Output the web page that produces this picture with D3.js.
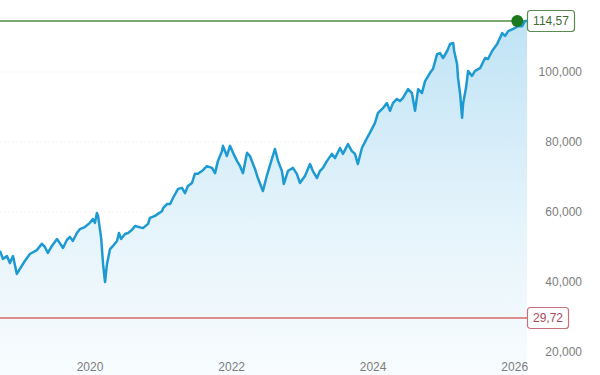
<!DOCTYPE html>
<html>
<head>
<meta charset="utf-8">
<script src="https://cdn.jsdelivr.net/npm/d3@7"></script>
<style>
html,body{margin:0;padding:0;background:#fff;}
svg{display:block;font-family:"Liberation Sans",Arial,sans-serif;}
</style>
</head>
<body>
<svg id="chart" width="600" height="375"></svg>
<script>
const dates = ["2018-09-26","2018-10-11","2018-11-01","2018-11-16","2018-12-02","2018-12-22",
"2019-02-01","2019-02-27","2019-04-04","2019-04-30","2019-05-16","2019-05-31","2019-06-21","2019-07-17",
"2019-08-01","2019-08-17","2019-09-06","2019-09-22","2019-10-07","2019-10-28","2019-11-12","2019-12-08",
"2020-01-03","2020-01-18","2020-01-29","2020-02-08","2020-02-14","2020-03-01","2020-03-11","2020-03-21",
"2020-03-31","2020-04-16","2020-05-01","2020-05-22","2020-06-01","2020-06-12","2020-07-02","2020-07-18",
"2020-08-07","2020-08-23","2020-10-03","2020-10-29","2020-11-08","2020-12-04",
"2021-01-10","2021-01-15","2021-02-05","2021-02-20","2021-03-07","2021-04-02","2021-04-22","2021-05-08",
"2021-05-23","2021-06-13","2021-06-28","2021-07-14","2021-08-03","2021-08-29","2021-09-24","2021-10-10",
"2021-10-25","2021-11-15","2021-11-20","2021-12-10","2021-12-26",
"2022-01-11","2022-01-31","2022-02-16","2022-03-03","2022-03-24","2022-04-08","2022-05-04","2022-05-19",
"2022-06-14","2022-07-04","2022-07-30","2022-08-15","2022-08-31","2022-09-20","2022-09-30","2022-10-21",
"2022-11-16","2022-12-06","2022-12-22",
"2023-01-17","2023-02-12","2023-02-27","2023-03-20","2023-04-04","2023-04-20","2023-05-11","2023-06-05",
"2023-06-21","2023-07-17","2023-08-01","2023-08-27","2023-09-16","2023-10-02","2023-10-17","2023-11-07",
"2023-12-03","2023-12-18",
"2024-01-13","2024-01-29","2024-02-24","2024-03-15","2024-03-31","2024-04-15","2024-05-06","2024-05-21",
"2024-06-06","2024-07-02","2024-07-22","2024-08-07","2024-08-23","2024-09-12","2024-09-28","2024-10-23",
"2024-11-08","2024-11-29","2024-12-14","2024-12-30",
"2025-01-20","2025-02-04","2025-02-20","2025-02-25","2025-03-12","2025-03-17","2025-03-28","2025-04-07",
"2025-04-12","2025-04-27","2025-05-08","2025-05-28","2025-06-13","2025-07-09","2025-08-04","2025-08-19",
"2025-09-09","2025-10-05","2025-10-31","2025-11-15","2025-12-01","2025-12-27",
"2026-01-21","2026-02-11","2026-02-26","2026-03-08"];
const values = [48.9,46.6,47.4,45.4,47.4,42.3,
46.0,48.0,49.1,50.9,50.0,48.3,50.3,52.3,
51.1,49.7,52.0,52.9,51.7,54.0,55.1,55.7,
56.9,58.0,56.9,59.7,58.9,52.6,45.1,40.0,
45.1,49.4,50.3,51.7,54.0,52.3,53.7,54.0,
54.9,56.0,55.4,56.6,58.3,58.9,
60.3,61.1,62.3,62.3,64.0,66.6,66.9,65.4,
67.4,68.3,70.9,70.9,71.7,73.1,72.6,71.1,
74.6,77.4,78.9,76.0,78.9,
76.9,74.6,73.1,71.1,76.9,76.0,72.3,69.7,
66.0,70.3,75.1,78.0,74.6,71.7,68.0,71.7,
72.6,70.9,68.3,
70.3,73.7,71.7,69.7,71.7,72.6,74.6,76.6,
75.4,78.3,76.6,79.4,77.4,76.6,73.7,78.3,
81.1,82.6,
85.4,88.3,89.7,91.1,88.9,91.1,92.3,91.7,
92.6,95.1,94.0,88.9,95.1,94.0,97.4,99.7,
100.9,105.1,105.4,104.0,
106.0,108.0,108.3,106.0,102.3,98.3,93.7,86.9,
90.9,95.4,100.3,98.9,100.3,101.1,104.0,103.7,
106.0,108.0,111.1,110.3,111.7,112.3,
113.1,113.1,114.6,114.57];
const yTicks = [20, 40, 60, 80, 100];
const xTickYears = [2020, 2022, 2024, 2026];
const highValue = 114.57;
const highDate = "2026-01-17";
const lowValue = 29.72;

const parse = d3.timeParse("%Y-%m-%d");
const data = dates.map((d, i) => ({date: parse(d), value: values[i]}));
const locale = d3.formatLocale({decimal: ",", thousands: ".", grouping: [3], currency: ["", "€"]});
const fmt3 = locale.format(".3f");
const fmt2 = locale.format(".2f");

const svg = d3.select("#chart");
const plotRight = 527, plotBottom = 375;
const x = d3.scaleTime().domain(d3.extent(data, d => d.date)).range([0, plotRight]);
const y = d3.scaleLinear().domain([15, 120]).range([369.5, 2]);

const defs = svg.append("defs");
const grad = defs.append("linearGradient").attr("id", "fillGrad")
  .attr("gradientUnits", "userSpaceOnUse").attr("x1", 0).attr("x2", 0).attr("y1", 20).attr("y2", plotBottom);
grad.append("stop").attr("offset", "0%").attr("stop-color", "#bfe3f5");
grad.append("stop").attr("offset", "55%").attr("stop-color", "#e4f3fb");
grad.append("stop").attr("offset", "100%").attr("stop-color", "#f8fcfe");

// grid
svg.append("g").selectAll("line").data(yTicks).join("line")
  .attr("x1", 0).attr("x2", plotRight)
  .attr("y1", d => y(d)).attr("y2", d => y(d))
  .attr("stroke", "#f7f1f1").attr("stroke-width", 1).attr("stroke-dasharray", "2,2");

// area
svg.append("path").datum(data)
  .attr("fill", "url(#fillGrad)")
  .attr("d", d3.area().x(d => x(d.date)).y0(plotBottom).y1(d => y(d.value)));

// red line
svg.append("line").attr("x1", 0).attr("x2", plotRight)
  .attr("y1", y(lowValue)).attr("y2", y(lowValue))
  .attr("stroke", "#d46a6a").attr("stroke-width", 1.5);

// green line
svg.append("line").attr("x1", 0).attr("x2", plotRight)
  .attr("y1", y(highValue)).attr("y2", y(highValue))
  .attr("stroke", "#7ea774").attr("stroke-width", 1.8);

// price line
svg.append("path").datum(data)
  .attr("fill", "none").attr("stroke", "#1e9ad3").attr("stroke-width", 2.5)
  .attr("stroke-linejoin", "round")
  .attr("d", d3.line().x(d => x(d.date)).y(d => y(d.value)));

// dot
svg.append("circle").attr("cx", x(parse(highDate))).attr("cy", y(highValue)).attr("r", 6)
  .attr("fill", "#1b7a1f");

// y axis
const yAxis = svg.append("g").attr("transform", `translate(${plotRight},0)`)
  .call(d3.axisRight(y).tickValues(yTicks).tickSize(0).tickFormat(d => fmt3(d)));
yAxis.select(".domain").remove();
yAxis.selectAll("text").attr("x", 55).attr("text-anchor", "end")
  .attr("fill", "#7d7d7d").style("font-size", "12px").style("font-family", "Liberation Sans, Arial, sans-serif");

// x axis
const xAxis = svg.append("g").attr("transform", `translate(0,358)`)
  .call(d3.axisBottom(x).tickValues(xTickYears.map(yr => new Date(yr, 0, 1))).tickSize(0)
    .tickFormat(d3.timeFormat("%Y")));
xAxis.select(".domain").remove();
xAxis.selectAll("text").attr("y", 4).attr("fill", "#7d7d7d")
  .style("font-size", "12px").style("font-family", "Liberation Sans, Arial, sans-serif");

// labels
function tag(value, stroke, color, w) {
  const g = svg.append("g").attr("transform", `translate(${plotRight},${y(value)})`);
  g.append("rect").attr("x", 0.5).attr("y", -10.5).attr("width", w).attr("height", 21).attr("rx", 3)
    .attr("fill", "#fff").attr("stroke", stroke).attr("stroke-width", 1.2);
  g.append("text").attr("x", w / 2 + 0.5).attr("y", 0).attr("dy", "0.35em").attr("text-anchor", "middle")
    .attr("fill", color).style("font-size", "12px").text(fmt2(value));
}
tag(highValue, "#5a8a52", "#3f6b3a", 47);
tag(lowValue, "#c7707c", "#a94a58", 41);
</script>
</body>
</html>
